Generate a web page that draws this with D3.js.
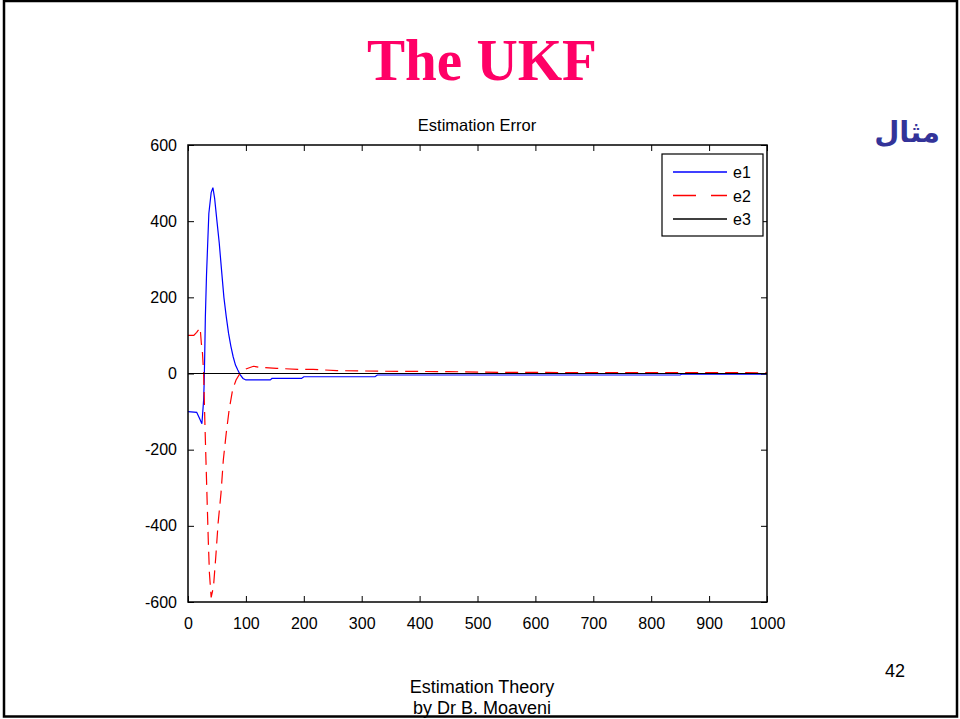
<!DOCTYPE html>
<html>
<head>
<meta charset="utf-8">
<script src="https://cdn.jsdelivr.net/npm/d3@7"></script>
<style>
  body { margin: 0; background: #fff; }
  svg { display: block; }
</style>
</head>
<body>
<div class="slide"></div>
<script>
// time steps and errors
const e1T = [0, 15, 20, 24, 27, 28, 29, 30, 32, 36, 40, 43, 46, 50, 54, 58, 62, 66, 70, 74, 78, 82, 86, 90, 95, 100, 142, 145, 196, 200, 323, 327, 850, 853, 1000];
const e1V = [-100, -102, -118, -132, -70, -20, 60, 150, 260, 420, 475, 488, 460, 400, 342, 270, 200, 150, 106, 72, 44, 22, 9, -3, -13, -17, -17, -13, -13, -8.5, -8.5, -4, -4, -1.5, -1.5];

const e2T = [0, 10, 15, 21, 23, 25, 27, 29, 31, 33, 35, 37, 40, 44, 48, 52, 57, 61, 66, 71, 77, 83, 90, 100, 113, 124, 153, 190, 216, 257, 331, 372, 450, 540, 700, 1000];
const e2V = [100, 100, 108, 120, 80, 54, 0, -120, -227, -332, -437, -524, -588, -560, -481, -393, -314, -227, -157, -96, -43, -17, 1, 12, 19, 16, 13.5, 11, 11, 7.5, 6, 5.5, 5, 3, 2.5, 2];

const e3T = [0, 100, 200, 300, 400, 500, 600, 700, 800, 900, 1000];
const e3V = [0, 0, 0, 0, 0, 0, 0, 0, 0, 0, 0];

const xTicks = [0, 100, 200, 300, 400, 500, 600, 700, 800, 900, 1000];
const yTicks = [-600, -400, -200, 0, 200, 400, 600];

const seriesNames = ['e1', 'e2', 'e3'];
const seriesColors = ['#0000ff', '#ff0000', '#000000'];
const seriesDash = [null, '13,7', null];

const W = 960, H = 719;
const plot = { left: 188, top: 145, right: 767, bottom: 602 };

const svg = d3.select('.slide').append('svg')
    .attr('width', W)
    .attr('height', H);

// slide frame
svg.append('rect')
    .attr('x', 4).attr('y', 1)
    .attr('width', 953).attr('height', 715.5)
    .attr('fill', 'none')
    .attr('stroke', '#000')
    .attr('stroke-width', 2.5);

// slide title
svg.append('text')
    .attr('x', 482).attr('y', 80)
    .attr('text-anchor', 'middle')
    .attr('font-family', '"Liberation Serif", "Times New Roman", serif')
    .attr('font-weight', 'bold')
    .attr('font-size', 60)
    .attr('textLength', 230)
    .attr('lengthAdjust', 'spacingAndGlyphs')
    .attr('fill', '#ff0066')
    .text('The UKF');

svg.append('text')
    .attr('x', 940).attr('y', 142)
    .attr('text-anchor', 'end')
    .attr('font-family', '"DejaVu Sans", sans-serif')
    .attr('font-weight', 'bold')
    .attr('font-size', 29)
    .attr('fill', '#333399')
    .text('مثال');

// footer
const footFont = '"Liberation Sans", Arial, sans-serif';
svg.append('text')
    .attr('x', 482).attr('y', 693)
    .attr('text-anchor', 'middle')
    .attr('font-family', footFont).attr('font-size', 18)
    .text('Estimation Theory');
svg.append('text')
    .attr('x', 482).attr('y', 714)
    .attr('text-anchor', 'middle')
    .attr('font-family', footFont).attr('font-size', 18)
    .text('by Dr B. Moaveni');
svg.append('text')
    .attr('x', 895).attr('y', 677)
    .attr('text-anchor', 'middle')
    .attr('font-family', footFont).attr('font-size', 18)
    .text('42');

// scales
const x = d3.scaleLinear().domain([0, 1000]).range([plot.left, plot.right]);
const y = d3.scaleLinear().domain([-600, 600]).range([plot.bottom, plot.top]);

const chart = svg.append('g');

svg.append('clipPath').attr('id', 'plotclip')
    .append('rect')
    .attr('x', plot.left).attr('y', plot.top)
    .attr('width', plot.right - plot.left).attr('height', plot.bottom - plot.top);

// lines
const line = d3.line().x(d => x(d[0])).y(d => y(d[1]));
const series = [
    d3.zip(e1T, e1V),
    d3.zip(e2T, e2V),
    d3.zip(e3T, e3V)
];

const lines = chart.append('g').attr('clip-path', 'url(#plotclip)');
series.forEach((s, i) => {
    lines.append('path')
        .datum(s)
        .attr('d', line)
        .attr('fill', 'none')
        .attr('stroke', seriesColors[i])
        .attr('stroke-width', 1.2)
        .attr('stroke-dasharray', seriesDash[i]);
});

// axes, ticks pointing inward on all four sides
const tickFont = '"Liberation Sans", Arial, sans-serif';
const inner = 6;
const plain = d => String(d);

const gx = chart.append('g')
    .attr('transform', `translate(0, ${plot.bottom})`)
    .call(d3.axisBottom(x).tickValues(xTicks).tickFormat(plain).tickSizeInner(-inner).tickSizeOuter(0).tickPadding(16));
const gxTop = chart.append('g')
    .attr('transform', `translate(0, ${plot.top})`)
    .call(d3.axisTop(x).tickValues(xTicks).tickSizeInner(-inner).tickSizeOuter(0).tickFormat(''));
const gy = chart.append('g')
    .attr('transform', `translate(${plot.left}, 0)`)
    .call(d3.axisLeft(y).tickValues(yTicks).tickFormat(plain).tickSizeInner(-inner).tickSizeOuter(0).tickPadding(11));
const gyRight = chart.append('g')
    .attr('transform', `translate(${plot.right}, 0)`)
    .call(d3.axisRight(y).tickValues(yTicks).tickSizeInner(-inner).tickSizeOuter(0).tickFormat(''));

[gx, gxTop, gy, gyRight].forEach(g => {
    g.select('.domain').remove();
    g.selectAll('.tick line').attr('stroke', '#000').attr('stroke-width', 1);
    g.selectAll('.tick text')
        .attr('font-family', tickFont)
        .attr('font-size', 16)
        .attr('fill', '#000');
});

chart.append('rect')
    .attr('x', plot.left).attr('y', plot.top)
    .attr('width', plot.right - plot.left).attr('height', plot.bottom - plot.top)
    .attr('fill', 'none')
    .attr('stroke', '#000')
    .attr('stroke-width', 1.5);

// plot title
chart.append('text')
    .attr('x', 477).attr('y', 131)
    .attr('text-anchor', 'middle')
    .attr('font-family', tickFont)
    .attr('font-size', 16.5)
    .text('Estimation Error');

// legend
const legend = chart.append('g').attr('transform', 'translate(662, 154)');
legend.append('rect')
    .attr('width', 101).attr('height', 82)
    .attr('fill', '#fff')
    .attr('stroke', '#000')
    .attr('stroke-width', 1.2);
seriesNames.forEach((name, i) => {
    const ly = 18 + i * 23.5;
    legend.append('line')
        .attr('x1', 11).attr('x2', 65)
        .attr('y1', ly).attr('y2', ly)
        .attr('stroke', seriesColors[i])
        .attr('stroke-width', 1.3)
        .attr('stroke-dasharray', i === 1 ? '23,15' : null);
    legend.append('text')
        .attr('x', 71).attr('y', ly + 6)
        .attr('font-family', tickFont)
        .attr('font-size', 16)
        .text(name);
});
</script>
</body>
</html>
